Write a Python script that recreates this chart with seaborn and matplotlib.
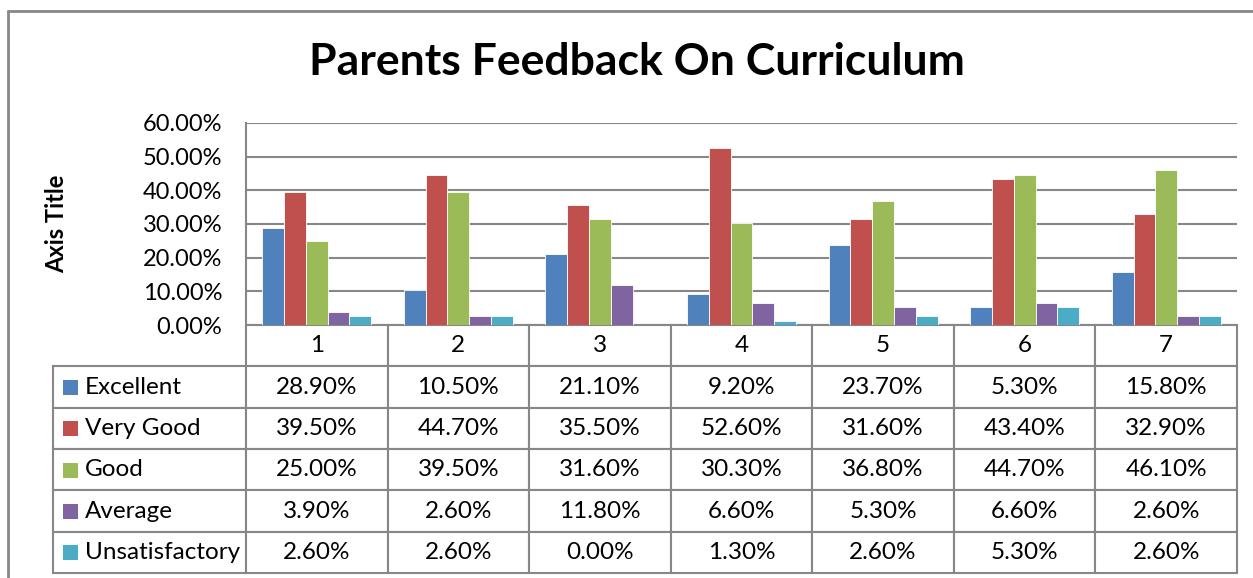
import pandas as pd
import seaborn as sns
import matplotlib.pyplot as plt
from matplotlib.patches import Rectangle
from matplotlib.lines import Line2D

categories = ["1", "2", "3", "4", "5", "6", "7"]
ratings = ["Excellent", "Very Good", "Good", "Average", "Unsatisfactory"]
excellent = [28.9, 10.5, 21.1, 9.2, 23.7, 5.3, 15.8]
very_good = [39.5, 44.7, 35.5, 52.6, 31.6, 43.4, 32.9]
good = [25.0, 39.5, 31.6, 30.3, 36.8, 44.7, 46.1]
average = [3.9, 2.6, 11.8, 6.6, 5.3, 6.6, 2.6]
unsatisfactory = [2.6, 2.6, 0.0, 1.3, 2.6, 5.3, 2.6]
y_ticks = [0, 10, 20, 30, 40, 50, 60]

colors = ["#4F81BD", "#C0504D", "#9BBB59", "#8064A2", "#4BACC6"]
grid_col = "#878787"

series = [excellent, very_good, good, average, unsatisfactory]
df = pd.DataFrame({
    "Category": categories * len(ratings),
    "Rating": [r for r in ratings for _ in categories],
    "Value": [v for s in series for v in s],
})

sns.set_theme(style="white")
plt.rcParams["font.family"] = ["Lato", "DejaVu Sans"]
plt.rcParams["text.color"] = "black"
plt.rcParams["axes.labelcolor"] = "black"
plt.rcParams["ytick.color"] = "black"

fig = plt.figure(figsize=(12.53, 5.78), dpi=100)
ax = fig.add_axes([246 / 1253, 1 - 325 / 578, 991 / 1253, 202 / 578])

sns.barplot(data=df, x="Category", y="Value", hue="Rating", hue_order=ratings,
            palette=colors, width=0.77, edgecolor="white", linewidth=0.6,
            saturation=1, ax=ax, legend=False)

ax.set_ylim(0, 60)
ax.set_xlim(-0.5, len(categories) - 0.5)
ax.set_yticks(y_ticks)
ax.set_yticklabels([f"{t:.2f}%" for t in y_ticks], fontsize=17)
ax.set_xticks([])
ax.set_xlabel("")
ax.set_ylabel("Axis Title", fontsize=17, fontweight="bold")
ax.yaxis.set_label_coords(-178 / 991, 0.5)
ax.tick_params(axis="y", length=0, pad=17)
ax.yaxis.grid(True, color=grid_col, linewidth=1.5)
ax.set_axisbelow(True)
for side in ["top", "right", "bottom"]:
    ax.spines[side].set_visible(False)
ax.spines["left"].set_color(grid_col)
ax.spines["left"].set_linewidth(1.5)

# Data table below the plot
cell_text = [[""] + categories]
for name, s in zip(ratings, series):
    cell_text.append([name] + [f"{v:.2f}%" for v in s])

label_w = 193
col_w = 991 / len(categories)
tbl = ax.table(cellText=cell_text,
               colWidths=[label_w] + [col_w] * len(categories),
               bbox=[-label_w / 991, -248 / 202, (label_w + 991) / 991, 248 / 202],
               cellLoc="center")
tbl.auto_set_font_size(False)
tbl.set_fontsize(17.5)
for (r, c), cell in tbl.get_celld().items():
    cell.set_edgecolor(grid_col)
    cell.set_linewidth(1.5)
    cell.get_text().set_color("black")
    if r == 0 and c == 0:
        cell.visible_edges = ""
    if c == 0 and r > 0:
        cell.get_text().set_ha("left")
        cell.PAD = 32 / 193

# legend keys inside the label column
for i, col in enumerate(colors):
    y_center = 1 - (367 + 20.6 + i * 41.2) / 578
    fig.patches.append(Rectangle((63 / 1253, y_center - 7.5 / 578), 15 / 1253, 15 / 578,
                                 transform=fig.transFigure, facecolor=col,
                                 edgecolor="none"))

fig.text(637 / 1253, 1 - 62 / 578, "Parents Feedback On Curriculum",
         ha="center", va="center", fontsize=32, fontweight="bold", color="black")

# chart area border (top and left visible)
fig.add_artist(Line2D([8 / 1253, 8 / 1253], [0, 1 - 11 / 578],
                      transform=fig.transFigure, color=grid_col, linewidth=2))
fig.add_artist(Line2D([8 / 1253, 1], [1 - 11 / 578, 1 - 11 / 578],
                      transform=fig.transFigure, color=grid_col, linewidth=2))

fig.savefig("out.png", dpi=100, facecolor="white")
